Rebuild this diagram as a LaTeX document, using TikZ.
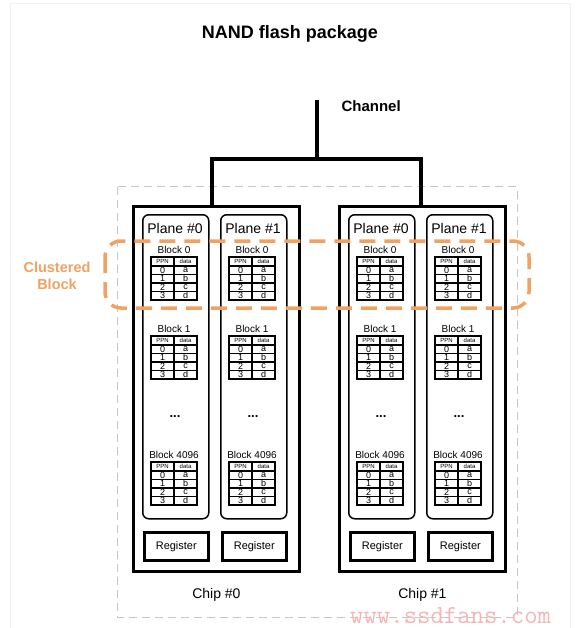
\documentclass[tikz,border=0pt]{standalone}
\usepackage{fontspec}
\setmainfont{Liberation Sans}
\usetikzlibrary{positioning}
\definecolor{clusterorange}{HTML}{F0A262}
\definecolor{markpink}{HTML}{F5B5B5}
\tikzset{
  heading/.style = {font=\bfseries\fontsize{18}{22}\selectfont},
  chanlabel/.style = {font=\bfseries\fontsize{15}{18}\selectfont},
  pkgframe/.style = {draw=gray!45, line width=1pt, dash pattern=on 8pt off 5pt},
  chipbox/.style = {draw, line width=2.8pt, minimum width=166pt, minimum height=365pt, inner sep=0pt},
  planebox/.style = {draw, line width=1.5pt, rounded corners=6pt, minimum width=66pt, minimum height=304pt, inner sep=0pt},
  planetitle/.style = {font=\fontsize{14}{16}\selectfont, inner sep=0pt},
  blocklabel/.style = {font=\fontsize{10}{12}\selectfont, inner sep=0pt},
  tablegrid/.style = {line width=1.1pt},
  headcell/.style = {font=\fontsize{6}{6}\selectfont, inner sep=0pt},
  ppncell/.style = {font=\fontsize{9}{9}\selectfont, inner sep=0pt},
  moredots/.style = {font=\bfseries\fontsize{13}{14}\selectfont, inner sep=0pt},
  regbox/.style = {draw, line width=2.6pt, minimum width=64pt, minimum height=28pt, inner sep=0pt, font=\fontsize{11}{13}\selectfont},
  chiplabel/.style = {font=\fontsize{14}{16}\selectfont, inner sep=0pt},
  bus/.style = {line width=3.8pt, line join=miter},
  cluster/.style = {draw=clusterorange, line width=3.5pt, rounded corners=16pt, dash pattern=on 16pt off 9pt},
  clusterlabel/.style = {text=clusterorange, align=center, font=\bfseries\fontsize{14.5}{17}\selectfont},
}

% one block: label above a PPN/data table, drawn from the table's top left corner
\newcommand{\ppnblock}[2]{%
  \node[blocklabel] (#2) at (23,-7.5) {#1};
  \draw[tablegrid] (0,0) rectangle (46,43) (23,0) -- (23,43);
  \foreach \r in {9,17.5,26,34.5} \draw[tablegrid] (0,\r) -- (46,\r);
  \node[headcell] (#2-ppn) at (11.5,4.5) {PPN};
  \node[headcell] (#2-data) at (34.5,4.5) {data};
  \foreach \n/\l [count=\i from 0] in {0/a,1/b,2/c,3/d} {
    \node[ppncell] (#2-n\i) at (11.5,13.25+8.5*\i) {\n};
    \node[ppncell] (#2-l\i) at (34.5,13.25+8.5*\i) {\l};
  }
}

\begin{document}
\begin{tikzpicture}[x=1pt,y=-1pt]
\useasboundingbox (0,0) rectangle (576,628);
\draw[gray!10, line width=0.8pt] (10,3) rectangle (570,640);

\node[heading] (pkgtitle) at (290,34) {NAND flash package};
\node[chanlabel, anchor=west] (chanlbl) at (338,106) {Channel};
\draw[pkgframe] (117,187) rectangle (517,617);

% channel bus
\coordinate (chtop) at (317,100);
\coordinate (split) at (317,159);
\coordinate (tap0) at (212,205);
\coordinate (tap1) at (421,205);
\draw[bus] (chtop) -- (split);
\draw[bus] (tap0) |- (split) -| (tap1);

\foreach \c/\cx in {0/132,1/338} {
  \node[chipbox, anchor=north west] (chip\c) at (\cx,205) {};
  \node[chiplabel] (chiplbl\c) at ([yshift=-22pt]chip\c.south) {Chip \#\c};
  \foreach \p/\px in {0/10,1/88} {
    \node[planebox, anchor=north west] (plane\c\p) at (\cx+\px,214) {};
    \node[planetitle] (ptitle\c\p) at (\cx+\px+33,228) {Plane \#\p};
    \begin{scope}[shift={(\cx+\px+9,257)}] \ppnblock{Block 0}{blka\c\p} \end{scope}
    \begin{scope}[shift={(\cx+\px+9,336)}] \ppnblock{Block 1}{blkb\c\p} \end{scope}
    \node[moredots] (dots\c\p) at (\cx+\px+33,417) {...};
    \begin{scope}[shift={(\cx+\px+9,462)}] \ppnblock{Block 4096}{blkc\c\p} \end{scope}
    \node[regbox, anchor=north west] (reg\c\p) at (\cx+\px+1,531) {Register};
  }
}

% clustered block
\draw[cluster] (105,241) rectangle (529,308);
\node[clusterlabel] (clusterlbl) at (57,276) {Clustered\\Block};

\node[text=markpink, anchor=base west, font=\ttfamily\fontsize{26}{27}\selectfont, inner sep=0pt] (mark) at (350,623) {www.ssdfans.com};
\end{tikzpicture}
\end{document}
